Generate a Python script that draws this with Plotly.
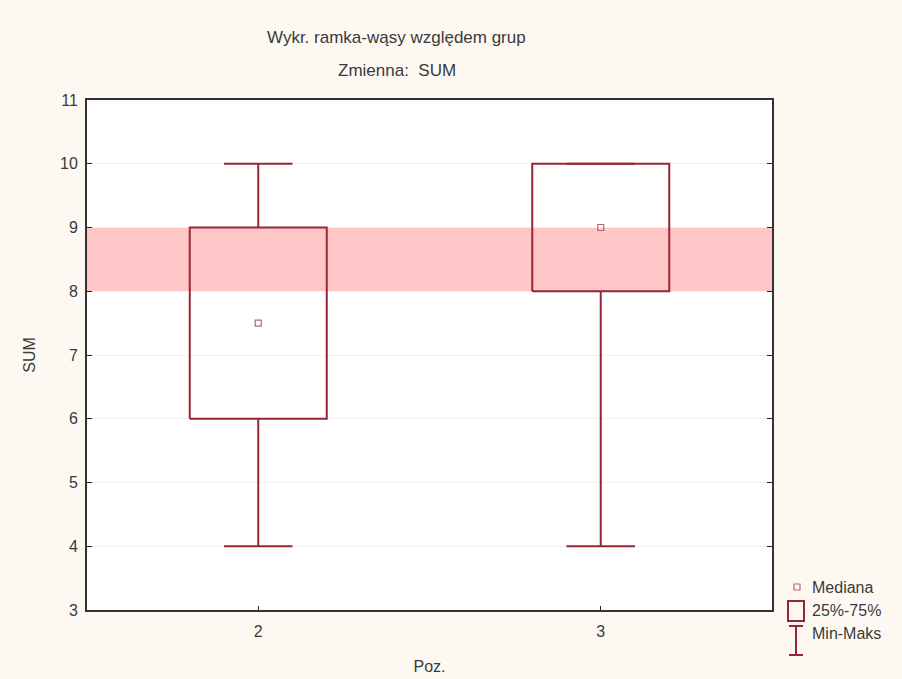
import plotly.graph_objects as go

# Group summary statistics for variable SUM by Poz.
groups = [2, 3]
q_min = [4, 4]
q1 = [6, 8]
median = [7.5, 9]
q3 = [9, 10]
q_max = [10, 10]

# Reference band (shaded range on the SUM axis)
band_low = 8
band_high = 9

y_ticks = [3, 4, 5, 6, 7, 8, 9, 10, 11]
x_tick_labels = ["2", "3"]

BOX_HALF = 0.2
CAP_HALF = 0.1
LINE_COLOR = "#962635"
MED_COLOR = "#b9646e"
FONT = "Liberation Sans, Arial, sans-serif"
TEXT_COLOR = "#3a3a3a"

fig = go.Figure()

for g, lo, a, m, b, hi in zip(groups, q_min, q1, median, q3, q_max):
    # Box (25%-75%)
    fig.add_trace(go.Scatter(
        x=[g - BOX_HALF, g + BOX_HALF, g + BOX_HALF, g - BOX_HALF, g - BOX_HALF],
        y=[a, a, b, b, a],
        mode="lines", line=dict(color=LINE_COLOR, width=2),
        showlegend=False, hoverinfo="skip"))
    # Whiskers (Min-Maks)
    fig.add_trace(go.Scatter(
        x=[g, g, None, g, g, None, g - CAP_HALF, g + CAP_HALF, None, g - CAP_HALF, g + CAP_HALF],
        y=[b, hi, None, a, lo, None, hi, hi, None, lo, lo],
        mode="lines", line=dict(color=LINE_COLOR, width=2),
        showlegend=False, hoverinfo="skip"))
    # Median marker
    fig.add_trace(go.Scatter(
        x=[g], y=[m], mode="markers",
        marker=dict(symbol="square-open", size=6, color=MED_COLOR, line=dict(width=1.2)),
        showlegend=False, hoverinfo="skip"))

# Shaded band across the full plot width
fig.add_shape(type="rect", xref="paper", x0=0, x1=1, yref="y", y0=band_low, y1=band_high,
              fillcolor="#ffc6c8", line=dict(width=0), layer="below")

# Legend drawn beside the plot, bottom right
px = lambda v: (v - 87) / 685
py = lambda v: (610 - v) / 510
fig.add_shape(type="rect", xref="paper", yref="paper",
              x0=px(794), x1=px(800), y0=py(584), y1=py(590),
              line=dict(color=MED_COLOR, width=1.2), fillcolor="rgba(0,0,0,0)")
fig.add_shape(type="rect", xref="paper", yref="paper",
              x0=px(788), x1=px(804), y0=py(601), y1=py(621),
              line=dict(color=LINE_COLOR, width=2), fillcolor="rgba(0,0,0,0)")
fig.add_shape(type="line", xref="paper", yref="paper",
              x0=px(796), x1=px(796), y0=py(626), y1=py(655),
              line=dict(color=LINE_COLOR, width=2))
fig.add_shape(type="line", xref="paper", yref="paper",
              x0=px(789), x1=px(803), y0=py(626), y1=py(626),
              line=dict(color=LINE_COLOR, width=2))
fig.add_shape(type="line", xref="paper", yref="paper",
              x0=px(789), x1=px(803), y0=py(655), y1=py(655),
              line=dict(color=LINE_COLOR, width=2))
for label, yy in [("Mediana", 587), ("25%-75%", 610), ("Min-Maks", 633)]:
    fig.add_annotation(text=label, xref="paper", yref="paper", x=px(810), y=py(yy),
                       xanchor="left", yanchor="middle", showarrow=False,
                       font=dict(family=FONT, size=16, color=TEXT_COLOR))

# Titles
fig.add_annotation(text="Wykr. ramka-wąsy względem grup", xref="paper", yref="paper",
                   x=px(396), y=py(38), xanchor="center", yanchor="middle", showarrow=False,
                   font=dict(family=FONT, size=17, color=TEXT_COLOR))
fig.add_annotation(text="Zmienna:  SUM", xref="paper", yref="paper",
                   x=px(397), y=py(70), xanchor="center", yanchor="middle", showarrow=False,
                   font=dict(family=FONT, size=17, color=TEXT_COLOR))

fig.update_layout(
    width=902, height=679,
    margin=dict(l=87, r=130, t=100, b=69),
    paper_bgcolor="#fdf9f2",
    plot_bgcolor="#ffffff",
    font=dict(family=FONT, size=16, color=TEXT_COLOR),
    showlegend=False,
)
fig.update_xaxes(
    range=[1.5, 3.5], tickvals=groups, ticktext=x_tick_labels,
    showgrid=False, zeroline=False, automargin=False,
    showline=True, linecolor="#333333", linewidth=2, mirror=True,
    ticks="inside", ticklen=4, tickcolor="#222222",
    ticklabelstandoff=6,
    title=dict(text="Poz.", standoff=22, font=dict(size=16)),
)
fig.update_yaxes(
    range=[3, 11], tickvals=y_ticks,
    showgrid=True, gridcolor="#f1f1f1", gridwidth=1, zeroline=False, automargin=False,
    showline=True, linecolor="#333333", linewidth=2, mirror="allticks",
    ticks="inside", ticklen=5, tickcolor="#222222",
    ticklabelstandoff=4,
    title=dict(text="SUM", standoff=20, font=dict(size=16)),
)

fig.write_html("out.html")
